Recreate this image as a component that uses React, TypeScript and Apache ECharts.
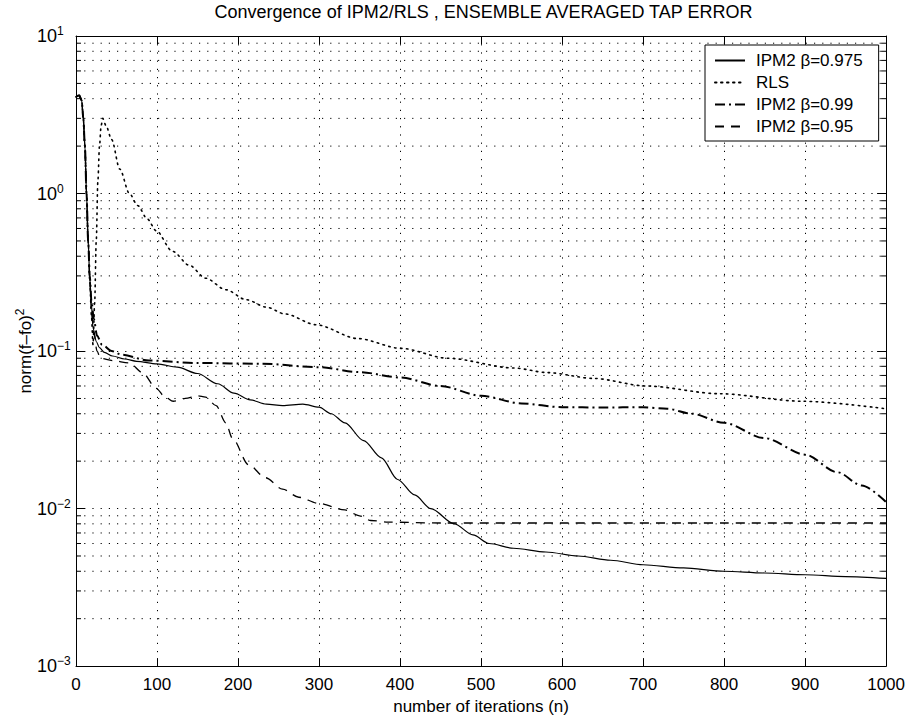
import React, { useEffect, useRef } from "react";
import * as echarts from "echarts";

const titleText = "Convergence of IPM2/RLS , ENSEMBLE AVERAGED TAP ERROR";
const xAxisTitle = "number of iterations (n)";
const yAxisTitleMain = "norm(f–fo)";
const yAxisTitleExp = "2";
const seriesNames = ["IPM2 β=0.975", "RLS", "IPM2 β=0.99", "IPM2 β=0.95"];

const xMin = 0;
const xMax = 1000;
const xStep = 100;
const yMin = 0.001;
const yMax = 10;
const decadeStarts = [0.001, 0.01, 0.1, 1];
const minorMultipliers = [2, 3, 4, 5, 6, 7, 8, 9];

// IPM2 beta = 0.975 (solid)
const n975 = [0, 4, 7, 9, 11, 13, 15, 17, 19, 21, 25, 29, 35, 45, 60, 75, 100, 125, 150, 175, 195, 215, 235, 255, 280, 300, 315, 332, 355, 377, 397, 418, 438, 467, 490, 510, 540, 580, 620, 660, 700, 750, 800, 850, 900, 950, 1000];
const v975 = [4.1, 4.2, 3.9, 3.0, 2.0, 1.0, 0.5, 0.29, 0.2, 0.14, 0.115, 0.105, 0.098, 0.093, 0.089, 0.086, 0.083, 0.079, 0.072, 0.062, 0.054, 0.049, 0.046, 0.045, 0.046, 0.044, 0.040, 0.035, 0.027, 0.021, 0.0153, 0.0122, 0.010, 0.008, 0.0068, 0.006, 0.0056, 0.0053, 0.005, 0.0047, 0.0044, 0.0042, 0.004, 0.0039, 0.0038, 0.0037, 0.0036];

// RLS (dotted)
const nRls = [0, 4, 7, 9, 11, 13, 15, 17, 19, 21, 23, 25, 27, 29, 31, 33, 37, 44, 54, 66, 76, 88, 99, 119, 140, 160, 185, 210, 235, 258, 296, 348, 401, 459, 541, 582, 639, 704, 794, 897, 1000];
const vRls = [4.1, 4.2, 3.9, 3.0, 2.0, 1.0, 0.5, 0.28, 0.17, 0.11, 0.2, 0.5, 1.2, 2.0, 2.7, 3.0, 2.7, 2.2, 1.43, 1.0, 0.84, 0.69, 0.58, 0.43, 0.35, 0.29, 0.245, 0.212, 0.19, 0.172, 0.147, 0.12, 0.104, 0.09, 0.078, 0.073, 0.067, 0.06, 0.0536, 0.048, 0.043];

// IPM2 beta = 0.99 (dash-dot)
const n99 = [0, 4, 7, 9, 11, 13, 15, 17, 19, 22, 26, 32, 44, 56, 90, 150, 230, 300, 350, 400, 450, 500, 550, 600, 650, 700, 730, 760, 800, 850, 900, 940, 970, 1000];
const v99 = [4.1, 4.2, 3.9, 3.0, 2.0, 1.0, 0.5, 0.3, 0.21, 0.16, 0.125, 0.11, 0.1, 0.095, 0.087, 0.084, 0.083, 0.079, 0.0735, 0.068, 0.06, 0.052, 0.0465, 0.044, 0.0438, 0.044, 0.043, 0.040, 0.035, 0.028, 0.022, 0.017, 0.014, 0.011];

// IPM2 beta = 0.95 (dashed)
const n95 = [0, 4, 7, 9, 11, 13, 15, 17, 19, 22, 26, 30, 45, 66, 82, 99, 110, 120, 135, 150, 160, 173, 185, 193, 213, 234, 255, 275, 299, 332, 350, 364, 385, 450, 600, 800, 1000];
const v95 = [4.1, 4.2, 3.9, 3.0, 2.0, 1.0, 0.5, 0.28, 0.18, 0.13, 0.1, 0.09, 0.087, 0.084, 0.073, 0.058, 0.051, 0.048, 0.05, 0.052, 0.051, 0.045, 0.035, 0.028, 0.019, 0.0157, 0.0133, 0.0118, 0.0108, 0.0098, 0.009, 0.0084, 0.0082, 0.0081, 0.0081, 0.0081, 0.0081];

const FONT = "'Liberation Sans', Arial, Helvetica, sans-serif";

const zip = (xs: number[], ys: number[]) => xs.map((x, i) => [x, ys[i]]);

export default function App() {
  const ref = useRef<HTMLDivElement>(null);

  useEffect(() => {
    if (!ref.current) return;
    const chart = echarts.init(ref.current, null, { renderer: "svg" });

    const minorValues: number[][] = [];
    decadeStarts.forEach((d) => minorMultipliers.forEach((m) => minorValues.push([xMin, d * m])));

    const dotted = { color: "#000", width: 1, type: [1.2, 7] as any };
    const axisLineStyle = { color: "#000", width: 1 };

    const lineBase = (name: string, data: number[][], lineStyle: any) => ({
      name,
      type: "line",
      data,
      symbol: "none",
      showSymbol: false,
      smooth: 0.3,
      smoothMonotone: "x",
      z: 3,
      lineStyle: { color: "#000", ...lineStyle },
      itemStyle: { color: "#000" },
      emphasis: { disabled: true },
    });

    const option: any = {
      animation: false,
      backgroundColor: "#fff",
      title: {
        text: titleText,
        left: 478.5,
        top: -2,
        textAlign: "center",
        textStyle: { fontFamily: FONT, fontSize: 18, fontWeight: "normal", color: "#000" },
      },
      legend: {
        data: seriesNames,
        orient: "vertical",
        left: 705,
        top: 45,
        itemWidth: 30,
        itemHeight: 14,
        itemGap: 5,
        padding: [7, 16, 6, 9],
        borderColor: "#000",
        borderWidth: 1,
        backgroundColor: "#fff",
        selectedMode: false,
        itemStyle: { opacity: 0, color: "transparent", borderWidth: 0 },
        textStyle: { fontFamily: FONT, fontSize: 17, color: "#000", padding: [0, 0, 0, 6] },
        z: 10,
      },
      grid: { left: 76, top: 36, right: 19, bottom: 45, containLabel: false },
      xAxis: [
        {
          type: "value",
          min: xMin,
          max: xMax,
          interval: xStep,
          position: "bottom",
          name: xAxisTitle,
          nameLocation: "middle",
          nameGap: 31,
          nameTextStyle: { fontFamily: FONT, fontSize: 17, color: "#000" },
          axisLine: { show: true, onZero: false, lineStyle: axisLineStyle },
          axisTick: { show: true, inside: true, length: 8, lineStyle: axisLineStyle },
          axisLabel: { fontFamily: FONT, fontSize: 17, color: "#000", margin: 10, formatter: (v: number) => String(v) },
          splitLine: { show: true, lineStyle: dotted },
        },
        {
          type: "value",
          min: xMin,
          max: xMax,
          interval: xStep,
          position: "top",
          axisLine: { show: true, onZero: false, lineStyle: axisLineStyle },
          axisTick: { show: true, inside: true, length: 8, lineStyle: axisLineStyle },
          axisLabel: { show: false },
          splitLine: { show: false },
        },
      ],
      yAxis: [
        {
          type: "log",
          logBase: 10,
          min: yMin,
          max: yMax,
          position: "left",
          name: `{a|${yAxisTitleMain}}{s|${yAxisTitleExp}}`,
          nameLocation: "middle",
          nameRotate: 90,
          nameGap: 40,
          nameMoveOverlap: false,
          nameTextStyle: {
            rich: {
              a: { fontFamily: FONT, fontSize: 17, color: "#000", verticalAlign: "middle", lineHeight: 22 },
              s: { fontFamily: FONT, fontSize: 12, color: "#000", verticalAlign: "top", lineHeight: 12 },
            },
          },
          axisLine: { show: true, onZero: false, lineStyle: axisLineStyle },
          axisTick: { show: true, inside: true, length: 9, lineStyle: axisLineStyle },
          axisLabel: {
            margin: 39,
            align: "left",
            formatter: (val: number) => {
              const e = Math.round(Math.log10(val));
              const es = e < 0 ? "−" + -e : String(e);
              return `{b|10}{e|${es}}`;
            },
            rich: {
              b: { fontFamily: FONT, fontSize: 18, color: "#000", verticalAlign: "middle", lineHeight: 22 },
              e: { fontFamily: FONT, fontSize: 12, color: "#000", verticalAlign: "top", lineHeight: 12 },
            },
          },
          splitLine: { show: true, lineStyle: dotted },
        },
        {
          type: "log",
          logBase: 10,
          min: yMin,
          max: yMax,
          position: "right",
          axisLine: { show: true, onZero: false, lineStyle: axisLineStyle },
          axisTick: { show: true, inside: true, length: 9, lineStyle: axisLineStyle },
          axisLabel: { show: false },
          splitLine: { show: false },
        },
      ],
      series: [
        {
          name: "minor-grid",
          type: "custom",
          xAxisIndex: 0,
          yAxisIndex: 0,
          silent: true,
          z: 1,
          encode: { x: 0, y: 1 },
          data: minorValues,
          renderItem: (params: any, api: any) => {
            const v = api.value(1);
            const a = api.coord([xMin, v]);
            const b = api.coord([xMax, v]);
            return {
              type: "group",
              children: [
                { type: "line", shape: { x1: a[0], y1: a[1], x2: b[0], y2: b[1] }, style: { stroke: "#000", lineWidth: 1, lineDash: [1.2, 7] } },
                { type: "line", shape: { x1: a[0], y1: a[1], x2: a[0] + 5, y2: a[1] }, style: { stroke: "#000", lineWidth: 1 } },
                { type: "line", shape: { x1: b[0] - 5, y1: b[1], x2: b[0], y2: b[1] }, style: { stroke: "#000", lineWidth: 1 } },
              ],
            };
          },
        },
        lineBase(seriesNames[0], zip(n975, v975), { width: 1.2, type: "solid" }),
        lineBase(seriesNames[1], zip(nRls, vRls), { width: 1.6, type: [1.5, 4.5], cap: "round" }),
        lineBase(seriesNames[2], zip(n99, v99), { width: 2, type: [10, 4, 2, 4] }),
        lineBase(seriesNames[3], zip(n95, v95), { width: 1.3, type: [9, 7] }),
      ],
    };

    chart.setOption(option);
    return () => chart.dispose();
  }, []);

  return (
    <div
      ref={ref}
      style={{ position: "absolute", left: 0, top: 0, width: 908, height: 720, background: "#fff" }}
    />
  );
}
